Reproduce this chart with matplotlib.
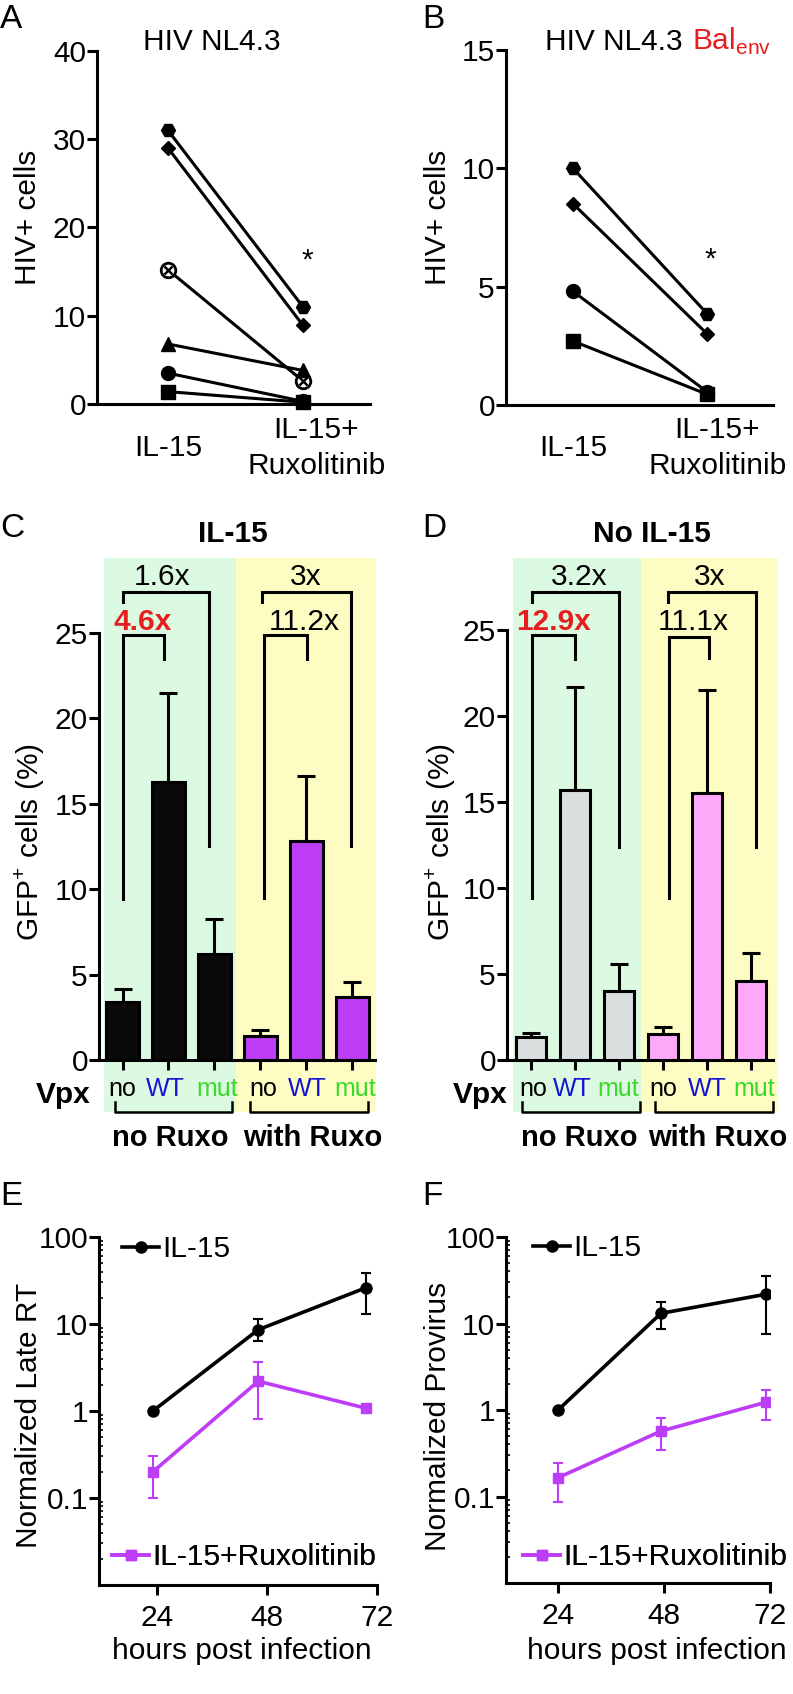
import numpy as np
import matplotlib
matplotlib.use('Agg')
import matplotlib.pyplot as plt
from matplotlib import transforms
from matplotlib.patches import Rectangle
from matplotlib.ticker import LogLocator, NullFormatter

plt.rcParams['font.family'] = ['Liberation Sans', 'DejaVu Sans']
plt.rcParams['mathtext.fontset'] = 'custom'
plt.rcParams['mathtext.rm'] = 'Liberation Sans'
plt.rcParams['mathtext.bf'] = 'Liberation Sans:bold'

# --- panel A / B: paired donors, HIV+ cells ---
pair_labels = ['IL-15', 'IL-15+\nRuxolitinib']
a_il15 = [31.0, 29.0, 15.2, 6.8, 3.5, 1.4]
a_rux = [11.0, 8.9, 2.6, 3.8, 0.3, 0.2]
b_il15 = [10.0, 8.5, 4.8, 2.7]
b_rux = [3.85, 3.0, 0.55, 0.45]

# --- panel C / D: GFP+ cells (%) mean and upper SEM ---
vpx_labels = ['no', 'WT', 'mut', 'no', 'WT', 'mut']
group_labels = ['no Ruxo', 'with Ruxo']
c_mean = [3.4, 16.3, 6.2, 1.4, 12.8, 3.7]
c_err = [0.75, 5.2, 2.05, 0.35, 3.8, 0.85]
d_mean = [1.35, 15.7, 4.0, 1.5, 15.5, 4.6]
d_err = [0.2, 6.0, 1.6, 0.4, 6.0, 1.6]
c_folds = ['4.6x', '1.6x', '11.2x', '3x']
d_folds = ['12.9x', '3.2x', '11.1x', '3x']

# --- panel E / F: time course (log scale) ---
hours_e = [23.1, 46.1, 69.5]
e_il15 = [1.0, 8.6, 26.0]
e_il15_lo = [1.0, 6.3, 13.2]
e_il15_hi = [1.0, 11.5, 39.0]
e_rux = [0.20, 2.2, 1.08]
e_rux_lo = [0.10, 0.8, 1.08]
e_rux_hi = [0.30, 3.7, 1.08]
hours_f = [24.0, 47.3, 71.1]
f_il15 = [1.0, 13.1, 21.8]
f_il15_lo = [1.0, 8.6, 7.5]
f_il15_hi = [1.0, 17.6, 35.0]
f_rux = [0.165, 0.57, 1.23]
f_rux_lo = [0.087, 0.345, 0.76]
f_rux_hi = [0.245, 0.81, 1.7]

W, H = 793, 1694
RED = '#e61e1e'
PURPLE = '#bd3cf5'
GREEN_BG = '#dcfae2'
YELLOW_BG = '#fcfcc3'
LW = 2.2
FS = 21.5

fig = plt.figure(figsize=(W / 100, H / 100), dpi=100)


def box(x0, y0, x1, y1):
    return fig.add_axes([x0 / W, 1 - y1 / H, (x1 - x0) / W, (y1 - y0) / H])


def ftext(x, y, s, **kw):
    kw.setdefault('fontsize', FS)
    return fig.text(x / W, 1 - y / H, s, **kw)


def style(ax):
    ax.set_facecolor('none')
    for s in ['top', 'right']:
        ax.spines[s].set_visible(False)
    for s in ['left', 'bottom']:
        ax.spines[s].set_linewidth(LW)
    ax.tick_params(width=LW, length=7, labelsize=FS, pad=1)


def blend(ax):
    return transforms.blended_transform_factory(ax.transData, fig.transFigure)


def paired(ax, before, after, markers, ymax, yticks, lab_shift):
    style(ax)
    for b, a, m in zip(before, after, markers):
        if m == 'otimes':
            ax.plot([0, 1], [b, a], '-o', color='black', lw=LW, ms=10.5,
                    mfc='white', mec='black', mew=2, clip_on=False)
            ax.plot([0, 1], [b, a], 'x', color='black', ms=5.5, mew=1.8,
                    clip_on=False)
        else:
            ms = 7.5 if m == 'D' else 10
            ax.plot([0, 1], [b, a], '-', marker=m, color='black', lw=LW,
                    ms=ms, clip_on=False)
    ax.set_ylim(0, ymax)
    ax.set_yticks(yticks)
    ax.set_xticks([])
    for i, lab in enumerate(pair_labels):
        ax.text(i + (lab_shift if i else 0.0), 1 - 448 / H, lab,
                transform=blend(ax), ha='center', va='center',
                fontsize=FS, linespacing=1.4)


# ---------------- A ----------------
axA = box(97, 51, 370, 404)
paired(axA, a_il15, a_rux, ['H', 'D', 'otimes', '^', 'o', 's'], 40,
       [0, 10, 20, 30, 40], 0.1)
axA.set_xlim(-0.526, 1.496)
axA.text(1.03, 15.3, '*', ha='center', va='baseline', fontsize=FS)
ftext(0, 28, 'A', fontsize=24, ha='left', va='baseline')
ftext(143, 50, 'HIV NL4.3', ha='left', va='baseline')
ftext(28, 217, 'HIV+ cells', rotation=90, ha='center', va='center')

# ---------------- B ----------------
axB = box(506, 50, 773, 405)
paired(axB, b_il15, b_rux, ['H', 'D', 'o', 's'], 15, [0, 5, 10, 15], 0.075)
axB.set_xlim(-0.5, 1.49)
axB.text(1.02, 5.8, '*', ha='center', va='baseline', fontsize=FS)
ftext(422, 28, 'B', fontsize=24, ha='left', va='baseline')
ftext(545, 50, 'HIV NL4.3', ha='left', va='baseline')
ftext(692, 50, r'Bal$_{\mathrm{env}}$', color=RED, ha='left', va='baseline')
ftext(438, 217, 'HIV+ cells', rotation=90, ha='center', va='center')


# ---------------- C / D ----------------
def bars(ax, mean, err, colors, width, bg, brackets, folds, fold_pos,
         under, vpx_x, grp_x):
    style(ax)
    x = np.arange(len(mean))
    (gx0, gx1, yx1), ybot, ytop = bg
    ax.add_patch(Rectangle((gx0, ybot), gx1 - gx0, ytop - ybot,
                           facecolor=GREEN_BG, edgecolor='none', zorder=0,
                           clip_on=False))
    ax.add_patch(Rectangle((gx1, ybot), yx1 - gx1, ytop - ybot,
                           facecolor=YELLOW_BG, edgecolor='none', zorder=0,
                           clip_on=False))
    ax.errorbar(x, mean, yerr=[np.zeros(len(err)), err], fmt='none',
                ecolor='black', elinewidth=LW, capsize=6.5, capthick=LW,
                zorder=2)
    ax.bar(x, mean, width=width, color=colors, edgecolor='black',
           linewidth=LW, zorder=3)
    ax.set_ylim(0, 25)
    ax.set_yticks([0, 5, 10, 15, 20, 25])
    ax.set_xticks(x)
    ax.set_xticklabels([])
    ax.tick_params(axis='x', length=7)
    for (xl, xr, top, yl, yr), lab, (tx, ty) in zip(brackets, folds, fold_pos):
        ax.plot([xl, xl, xr, xr], [yl, top, top, yr], color='black', lw=LW,
                clip_on=False, zorder=4, solid_joinstyle='miter')
        big = lab in ('4.6x', '12.9x')
        ax.text(tx, ty, lab, ha='center', va='baseline', fontsize=FS,
                color=RED if big else 'black',
                fontweight='bold' if big else 'normal', clip_on=False)
    tr = blend(ax)
    vcol = ['black', '#1414d2', '#3ada2a']
    for i, lab in enumerate(vpx_labels):
        ax.text(x[i] + vpx_x[i], 1 - 1096 / H, lab, transform=tr,
                ha='center', va='baseline', fontsize=18, color=vcol[i % 3])
    y_top, y_bot = 1 - 1102 / H, 1 - 1112 / H
    for (u0, u1), lab, gxp in zip(under, group_labels, grp_x):
        ax.plot([u0, u0, u1, u1], [y_top, y_bot, y_bot, y_top], color='black',
                lw=1.8, transform=tr, clip_on=False)
        ftext(gxp, 1146, lab, ha='center', va='baseline', fontweight='bold',
              fontsize=21)


axC = box(99, 633, 375, 1060)
bars(axC, c_mean, c_err, ['#0a0a0a'] * 3 + [PURPLE] * 3, 0.72,
     ((-0.40, 2.47, 5.52), -3.05, 29.4),
     [(0.0, 0.9, 24.9, 9.4, 23.5), (0.0, 1.88, 27.4, 26.8, 12.5),
      (3.08, 4.02, 24.9, 9.5, 23.5), (3.04, 4.98, 27.4, 26.8, 12.5)],
     c_folds, [(0.45, 25.2), (0.86, 27.8), (3.95, 25.2), (3.98, 27.8)],
     [(-0.16, 2.39), (2.78, 5.35)], [0, -0.06, 0.06, 0.06, 0.02, 0.06],
     [170, 313])
axC.set_xlim(-0.512, 5.5)
ftext(0, 537, 'C', fontsize=24, ha='left', va='baseline')
ftext(233, 542, 'IL-15', ha='center', va='baseline', fontweight='bold')
ftext(63, 1103, 'Vpx', ha='center', va='baseline', fontweight='bold')
ftext(30, 842, r'GFP$^{+}$ cells (%)', rotation=90, ha='center', va='center')

axD = box(507, 630, 773, 1060)
bars(axD, d_mean, d_err, ['#d8dfde'] * 3 + ['#fea8fa'] * 3, 0.68,
     ((-0.41, 2.5, 5.61), -3.0, 29.2),
     [(0.02, 1.0, 24.7, 9.4, 23.3), (0.02, 2.0, 27.2, 26.6, 12.4),
      (3.14, 4.05, 24.6, 9.4, 23.4), (3.11, 5.11, 27.2, 26.6, 12.4)],
     d_folds, [(0.52, 25.0), (1.09, 27.6), (3.68, 25.0), (4.07, 27.6)],
     [(-0.2, 2.48), (2.82, 5.5)], [0.05, -0.07, -0.02, 0, 0, 0.07],
     [579, 718])
axD.set_xlim(-0.545, 5.5)
ftext(422, 537, 'D', fontsize=24, ha='left', va='baseline')
ftext(652, 542, 'No IL-15', ha='center', va='baseline', fontweight='bold')
ftext(480, 1103, 'Vpx', ha='center', va='baseline', fontweight='bold')
ftext(441, 842, r'GFP$^{+}$ cells (%)', rotation=90, ha='center', va='center')


# ---------------- E / F ----------------
def timecourse(ax, hours, il, il_lo, il_hi, rx, rx_lo, rx_hi, leg1, leg2):
    style(ax)
    ax.set_yscale('log')
    ax.errorbar(hours, il, yerr=[np.subtract(il, il_lo), np.subtract(il_hi, il)],
                fmt='none', ecolor='black', elinewidth=1.5, capsize=3.5,
                capthick=1.5, zorder=2)
    ax.errorbar(hours, rx, yerr=[np.subtract(rx, rx_lo), np.subtract(rx_hi, rx)],
                fmt='none', ecolor=PURPLE, elinewidth=1.5, capsize=3.5,
                capthick=1.5, zorder=2)
    l1, = ax.plot(hours, il, '-o', color='black', lw=2.6, ms=8, zorder=3,
                  label='IL-15')
    l2, = ax.plot(hours, rx, '-s', color=PURPLE, lw=2.6, ms=7.5, zorder=3,
                  label='IL-15+Ruxolitinib')
    ax.set_ylim(0.01, 100)
    ax.set_yticks([0.1, 1, 10, 100])
    ax.set_yticklabels(['0.1', '1', '10', '100'])
    ax.yaxis.set_minor_locator(LogLocator(base=10, subs=np.arange(2, 10),
                                          numticks=20))
    ax.yaxis.set_minor_formatter(NullFormatter())
    ax.tick_params(axis='y', which='minor', length=3, width=1.2,
                   direction='in')
    ax.set_xticks([24, 48, 72])
    ax.tick_params(axis='x', length=7, pad=7)
    for h, (px, py) in zip([l1, l2], [leg1, leg2]):
        lg = ax.legend(handles=[h], loc='center left',
                       bbox_to_anchor=(px / W, 1 - py / H),
                       bbox_transform=fig.transFigure, frameon=False,
                       borderpad=0, borderaxespad=0, handlelength=1.25,
                       handletextpad=0.1, fontsize=FS, numpoints=1)
        ax.add_artist(lg)


axE = box(99, 1237, 377, 1585)
timecourse(axE, hours_e, e_il15, e_il15_lo, e_il15_hi, e_rux, e_rux_lo,
           e_rux_hi, (122, 1249), (112, 1557))
axE.set_xlim(11.35, 72)
ftext(0, 1205, 'E', fontsize=24, ha='left', va='baseline')
ftext(29, 1415, 'Normalized Late RT', rotation=90, ha='center', va='center')
ftext(242, 1659, 'hours post infection', ha='center', va='baseline')

axF = box(506, 1237, 770, 1583)
timecourse(axF, hours_f, f_il15, f_il15_lo, f_il15_hi, f_rux, f_rux_lo,
           f_rux_hi, (533, 1248), (523, 1557))
axF.set_xlim(12.2, 72)
ftext(422, 1205, 'F', fontsize=24, ha='left', va='baseline')
ftext(438, 1416, 'Normalized Provirus', rotation=90, ha='center', va='center')
ftext(657, 1659, 'hours post infection', ha='center', va='baseline')

fig.savefig('out.png', dpi=100)
